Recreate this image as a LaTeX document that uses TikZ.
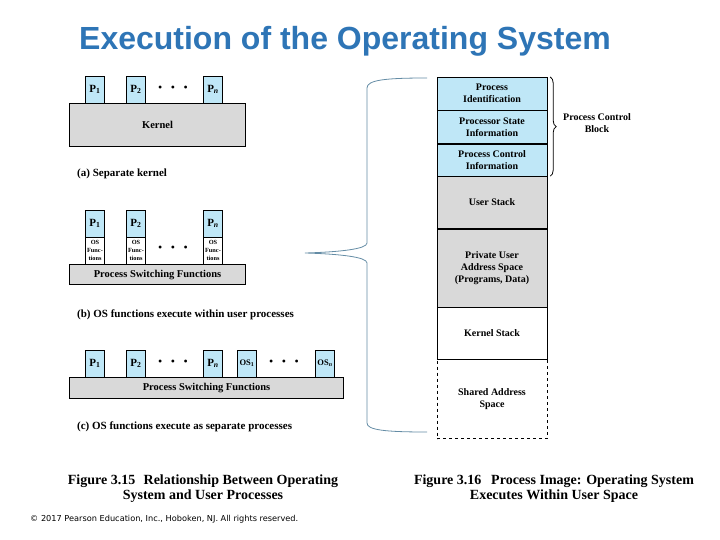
\documentclass[tikz,border=0pt]{standalone}
\usepackage{fontspec}
\setmainfont{Liberation Serif}
\newfontfamily\titlefont{Liberation Sans}
\newfontfamily\notefont{DejaVu Sans}
\usetikzlibrary{positioning, calc, decorations.pathreplacing}

\definecolor{procblue}{RGB}{191,231,247}
\definecolor{kgray}{RGB}{217,217,217}
\definecolor{titleblue}{RGB}{46,117,182}
\definecolor{bracecol}{RGB}{100,140,165}

\begin{document}
\begin{tikzpicture}[
        x=1pt, y=-1pt,
        proc/.style={rectangle, draw=black, fill=procblue, minimum width=19pt, minimum height=27pt, inner sep=0pt, anchor=south, font=\fontsize{11}{12}\selectfont\bfseries},
        osfun/.style={rectangle, draw=black, fill=white, minimum width=19pt, minimum height=27pt, inner sep=0pt, anchor=north, align=center, font=\fontsize{6.3}{8}\selectfont\bfseries},
        base/.style={rectangle, draw=black, line width=1.1pt, fill=kgray, inner sep=0pt, anchor=north west, font=\fontsize{10.5}{12}\selectfont\bfseries},
        seg/.style={rectangle, draw=black, minimum width=110pt, inner sep=0pt, anchor=north, align=center, font=\fontsize{10}{12}\selectfont\bfseries},
        subcap/.style={inner sep=0pt, anchor=west, font=\fontsize{11}{12}\selectfont\bfseries},
        fig/.style={inner sep=0pt, align=center, font=\fontsize{14}{15}\selectfont\bfseries},
        dots/.style={inner sep=0pt, font=\fontsize{12}{12}\selectfont},
        bigbrace/.style={draw=bracecol, line width=0.8pt}
    ]
        \useasboundingbox (0,0) rectangle (720,540);
        \node[text=titleblue, font=\titlefont\bfseries\fontsize{32}{36}\selectfont] (title) at (345,41) {Execution of the Operating System};

        % (a) separate kernel
        \node[base, minimum width=176pt, minimum height=43pt] (kernel) at (69,103) {Kernel};
        \node[proc] (ap1) at (95,103) {P\textsubscript{1}};
        \node[proc] (ap2) at (136,103) {P\textsubscript{2}};
        \node[proc] (apn) at (213,103) {P\textsubscript{\textit{n}}};
        \node[dots] (adots) at (173,89) {\textbullet\hspace{8.5pt}\textbullet\hspace{8.5pt}\textbullet};
        \node[subcap] (capa) at (77,174) {(a) Separate kernel};

        % (b) OS functions within user processes
        \node[base, minimum width=176pt, minimum height=20pt] (psfb) at (69,264) {Process Switching Functions};
        \node[proc] (bp1) at (95,237) {P\textsubscript{1}};
        \node[proc] (bp2) at (136,237) {P\textsubscript{2}};
        \node[proc] (bpn) at (213,237) {P\textsubscript{\textit{n}}};
        \node[osfun] (bos1) at (95,237) {OS\\Func-\\tions};
        \node[osfun] (bos2) at (136,237) {OS\\Func-\\tions};
        \node[osfun] (bosn) at (213,237) {OS\\Func-\\tions};
        \node[dots] (bdots) at (173,249) {\textbullet\hspace{8.5pt}\textbullet\hspace{8.5pt}\textbullet};
        \node[subcap] (capb) at (77,315) {(b) OS functions execute within user processes};

        % (c) OS functions as separate processes
        \node[base, minimum width=274pt, minimum height=21pt] (psfc) at (69,377) {Process Switching Functions};
        \node[proc] (cp1) at (95,377) {P\textsubscript{1}};
        \node[proc] (cp2) at (136,377) {P\textsubscript{2}};
        \node[proc] (cpn) at (213,377) {P\textsubscript{\textit{n}}};
        \node[proc, font=\fontsize{8.5}{10}\selectfont\bfseries] (cos1) at (247,377) {OS\textsubscript{1}};
        \node[proc, font=\fontsize{8.5}{10}\selectfont\bfseries] (cosn) at (325,377) {OS\textsubscript{\textit{n}}};
        \node[dots] (cdots1) at (173,363) {\textbullet\hspace{8.5pt}\textbullet\hspace{8.5pt}\textbullet};
        \node[dots] (cdots2) at (284,363) {\textbullet\hspace{8.5pt}\textbullet\hspace{8.5pt}\textbullet};
        \node[subcap] (capc) at (77,427) {(c) OS functions execute as separate processes};

        % process image
        \node[seg, fill=procblue, minimum height=33pt] (pid) at (492,77) {Process\\Identification};
        \node[seg, fill=procblue, minimum height=33pt, below=0pt of pid] (psi) {Processor State\\Information};
        \node[seg, fill=procblue, minimum height=32pt, below=0pt of psi] (pci) {Process Control\\Information};
        \node[seg, fill=kgray, minimum height=52pt, below=0pt of pci] (ustack) {User Stack};
        \node[seg, fill=kgray, minimum height=78pt, below=0pt of ustack] (priv) {Private User\\Address Space\\(Programs, Data)};
        \node[seg, fill=white, minimum height=52pt, below=0pt of priv] (kstack) {Kernel Stack};
        \node[seg, dashed, fill=white, minimum height=79pt, below=0pt of kstack] (shared) {Shared Address\\Space};
        \draw[line width=1.1pt] (pid.south west) -- (pid.south east);
        \draw[line width=1.1pt] (ustack.south west) -- (ustack.south east);

        \draw[decorate, decoration={brace, amplitude=6pt}, thick] ([xshift=3pt]pid.north east) -- ([xshift=3pt]pci.south east);
        \node[font=\fontsize{10}{12}\selectfont\bfseries, align=center] (pcb) at (597,123) {Process Control\\Block};

        % brace from (b) to the process image
        \draw[bigbrace] (427,78) .. controls (385,78) and (367,80) .. (367,88) -- (367,243)
            .. controls (367,249) and (340,252) .. (305,253)
            .. controls (340,254) and (367,257) .. (367,263) -- (367,423)
            .. controls (367,430) and (385,432) .. (427,432);

        \node[fig] (fig15) at (203,489) {Figure 3.15\hspace{0.6em}Relationship Between Operating\\System and User Processes};
        \node[fig] (fig16) at (554,489) {Figure 3.16\hspace{0.7em}Process Image: Operating System\\Executes Within User Space};
        \node[inner sep=0pt, anchor=west, font=\notefont\fontsize{8.2}{10}\selectfont] (copy) at (30,519) {© 2017 Pearson Education, Inc., Hoboken, NJ. All rights reserved.};
    \end{tikzpicture}
\end{document}
